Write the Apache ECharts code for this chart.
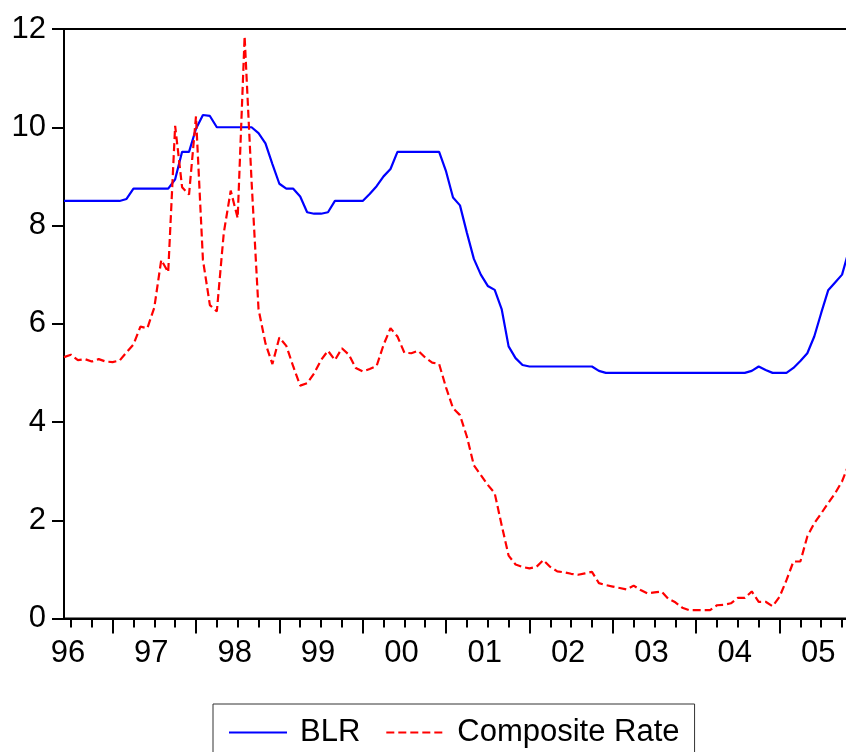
<!DOCTYPE html>
<html>
<head>
<meta charset="utf-8">
<script src="https://cdn.jsdelivr.net/npm/echarts@6/dist/echarts.min.js"></script>
<style>
  html, body { margin: 0; padding: 0; background: #fff; overflow: hidden; }
  /* a little wider than the window: the plot frame's right side falls just off the picture */
  #chart { width: 850px; height: 752px; }
</style>
</head>
<body>
<div id="chart"></div>
<script>
// monthly observations, Jun 1996 .. Nov 2005
const startYear = 1996
const startMonth = 6
const endYear = 2005
const endMonth = 11

// BLR, one row per year
const blr = [
  8.5, 8.5, 8.5, 8.5, 8.5, 8.5, 8.5, // 1996 Jun-Dec
  8.5, 8.5, 8.54, 8.75, 8.75, 8.75, 8.75, 8.75, 8.75, 8.94, 9.5, 9.5, // 1997
  9.97, 10.25, 10.23, 10.0, 10.0, 10.0, 10.0, 10.0, 10.0, 9.88, 9.67, 9.25, // 1998
  8.85, 8.75, 8.75, 8.59, 8.27, 8.24, 8.24, 8.27, 8.5, 8.5, 8.5, 8.5, // 1999
  8.5, 8.64, 8.8, 9.0, 9.15, 9.5, 9.5, 9.5, 9.5, 9.5, 9.5, 9.5, // 2000
  9.1, 8.57, 8.41, 7.85, 7.32, 7.0, 6.77, 6.69, 6.3, 5.54, 5.3, 5.16, // 2001
  5.13, 5.13, 5.13, 5.13, 5.13, 5.13, 5.13, 5.13, 5.13, 5.13, 5.04, 5.0, // 2002
  5.0, 5.0, 5.0, 5.0, 5.0, 5.0, 5.0, 5.0, 5.0, 5.0, 5.0, 5.0, // 2003
  5.0, 5.0, 5.0, 5.0, 5.0, 5.0, 5.0, 5.0, 5.04, 5.13, 5.06, 5.0, // 2004
  5.0, 5.0, 5.1, 5.24, 5.4, 5.74, 6.22, 6.68, 6.84, 7.0, 7.5 // 2005 Jan-Nov
]

// Composite Rate
const composite = [
  5.32, 5.37, 5.26, 5.28, 5.23, 5.28, 5.23, // 1996 Jun-Dec
  5.22, 5.25, 5.42, 5.58, 5.94, 5.91, 6.33, 7.3, 7.05, 10.03, 8.78, 8.63, // 1997
  10.22, 7.3, 6.38, 6.25, 7.85, 8.71, 8.15, 11.85, 8.9, 6.3, 5.6, 5.18, // 1998
  5.72, 5.55, 5.13, 4.74, 4.79, 4.99, 5.26, 5.45, 5.26, 5.5, 5.37, 5.1, // 1999
  5.03, 5.08, 5.14, 5.57, 5.91, 5.74, 5.41, 5.4, 5.45, 5.31, 5.21, 5.18, // 2000
  4.7, 4.28, 4.14, 3.7, 3.12, 2.92, 2.72, 2.55, 1.9, 1.28, 1.1, 1.05, // 2001
  1.02, 1.05, 1.19, 1.05, 0.96, 0.94, 0.91, 0.89, 0.92, 0.95, 0.72, 0.68, // 2002
  0.65, 0.62, 0.59, 0.67, 0.58, 0.51, 0.53, 0.55, 0.4, 0.33, 0.22, 0.17, // 2003
  0.17, 0.17, 0.17, 0.27, 0.28, 0.31, 0.42, 0.42, 0.55, 0.34, 0.34, 0.25, // 2004
  0.44, 0.78, 1.16, 1.16, 1.67, 1.94, 2.14, 2.35, 2.55, 2.79, 3.15 // 2005 Jan-Nov
]

const yTicks = [0, 2, 4, 6, 8, 10, 12]

const months = []
for (let y = startYear; y <= endYear; y++) {
  for (let m = 1; m <= 12; m++) {
    if (y === startYear && m < startMonth) continue
    if (y === endYear && m > endMonth) break
    months.push(y + '-' + (m < 10 ? '0' + m : m))
  }
}
const monthOf = v => parseInt(v.slice(5), 10)

const font = '"Liberation Sans", Arial, sans-serif'
const chart = echarts.init(document.getElementById('chart'))

const option = {
  animation: false,
  backgroundColor: '#fff',
  grid: {
    left: 64,
    right: 1,
    top: 29,
    bottom: 133.5,
    show: true,
    borderColor: '#000',
    borderWidth: 2,
    backgroundColor: 'transparent'
  },
  legend: {
    left: 213,
    top: 704,
    padding: [13, 15, 15, 15],
    itemGap: 25,
    itemWidth: 58,
    itemHeight: 14,
    borderColor: '#333',
    borderWidth: 1,
    backgroundColor: '#fff',
    // only the line sample, no marker dot
    itemStyle: { opacity: 0 },
    textStyle: {
      fontFamily: font,
      fontSize: 31,
      color: '#000',
      padding: [0, 0, 0, 8]
    },
    data: ['BLR', 'Composite Rate']
  },
  xAxis: [
    {
      type: 'category',
      position: 'bottom',
      boundaryGap: false,
      data: months,
      axisLine: { onZero: false, lineStyle: { color: '#000', width: 2 } },
      axisTick: {
        show: true,
        length: 9,
        interval: (i, v) => (monthOf(v) - 1) % 3 === 0,
        lineStyle: { color: '#000', width: 2 }
      },
      axisLabel: { show: false },
      splitLine: { show: false }
    },
    {
      type: 'category',
      position: 'bottom',
      boundaryGap: false,
      data: months,
      axisLine: { show: false },
      axisTick: {
        show: true,
        length: 15,
        interval: (i, v) => monthOf(v) === 1,
        lineStyle: { color: '#000', width: 2 }
      },
      axisLabel: {
        interval: (i, v) => monthOf(v) === 7,
        formatter: v => v.slice(2, 4),
        fontFamily: font,
        fontSize: 31,
        color: '#000',
        margin: 19,
        padding: [0, 6, 0, 0]
      },
      splitLine: { show: false }
    }
  ],
  yAxis: {
    type: 'value',
    min: yTicks[0],
    max: yTicks[yTicks.length - 1],
    interval: 2,
    axisLine: { show: true, onZero: false, lineStyle: { color: '#000', width: 2 } },
    axisTick: { show: true, length: 12, lineStyle: { color: '#000', width: 2 } },
    axisLabel: {
      fontFamily: font,
      fontSize: 31,
      color: '#000',
      margin: 18
    },
    splitLine: { show: false }
  },
  series: [
    {
      name: 'BLR',
      type: 'line',
      xAxisIndex: 0,
      symbol: 'none',
      data: blr,
      itemStyle: { color: '#0000ff' },
      lineStyle: { color: '#0000ff', width: 2.2 }
    },
    {
      name: 'Composite Rate',
      type: 'line',
      xAxisIndex: 0,
      symbol: 'none',
      data: composite,
      itemStyle: { color: '#ff0000' },
      lineStyle: { color: '#ff0000', width: 2.2, type: [8, 4] }
    }
  ]
}

chart.setOption(option)
</script>
</body>
</html>
